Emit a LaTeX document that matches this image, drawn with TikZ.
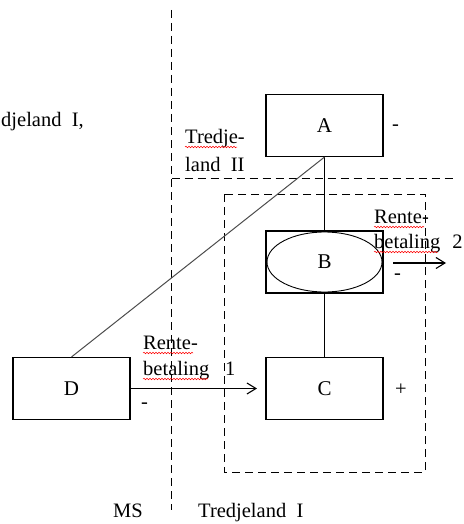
\documentclass[tikz,border=0pt]{standalone}
\usepackage{fontspec}
\setmainfont{Liberation Serif}
\usetikzlibrary{arrows.meta,shapes.geometric,decorations.pathmorphing}

\tikzset{
  box/.style={draw, line width=1.1pt, minimum width=117pt, minimum height=62pt, inner sep=0pt, font=\fontsize{21}{24}\selectfont},
  grense/.style={dash pattern=on 8pt off 5pt, line width=1pt},
  lbl/.style={font=\fontsize{20.5}{24}\selectfont, inner sep=0pt, anchor=base west},
  spell/.style={red, line width=0.5pt, decorate, decoration={snake, amplitude=0.8pt, segment length=3pt}},
  pil/.style={line width=1.1pt, -{Straight Barb[length=9pt,width=11pt,line width=1.1pt]}}
}

\begin{document}
\begin{tikzpicture}[x=1pt,y=-1pt]
\useasboundingbox (0,0) rectangle (463,524);
% grenser
\draw[grense] (171.5,10) -- (171.5,510);
\draw[grense] (171.5,178) -- (457,178);
\draw[grense] (224,194) rectangle (425,472);

\node[box] (A) at (324.5,125.5) {A};
\node[box] (B) at (324.5,262) {};
\node[draw, ellipse, line width=0.9pt, minimum width=115pt, minimum height=60pt, inner sep=0pt, font=\fontsize{21}{24}\selectfont] (Bell) at (324.5,262) {B};
\node[box] (C) at (324.5,388.5) {C};
\node[box] (D) at (71.5,388.5) {D};

\draw[line width=1.1pt] (A.south) -- (B.north);
\draw[line width=1.1pt] (B.south) -- (C.north);
\draw[gray!60!black, line width=1pt] (A.south) -- (D.north);

\coordinate (ende1) at (257,388.5);
\coordinate (start2) at (393,263);
\coordinate (ende2) at (446,263);
\draw[pil] (D.east) -- (ende1);
\draw[pil] (start2) -- (ende2);

% tekster
\node[lbl] (t1) at (1,126) {djeland\ \ I,};
\node[lbl] (t2) at (185,143) {Tredje-};
\node[lbl] (t3) at (185,171) {land\ \ II};
\node[lbl] (mA) at (392,131) {-};
\node[lbl] (r2a) at (374,223) {Rente-};
\node[lbl] (r2b) at (374,248) {betaling\hspace{12pt}2};
\node[lbl] (m2) at (394,279) {-};
\node[lbl] (r1a) at (143,349) {Rente-};
\node[lbl] (r1b) at (143,375) {betaling\hspace{16pt}1};
\node[lbl] (m1) at (141,408) {-};
\node[lbl] (pC) at (395,395) {+};
\node[lbl] (ms) at (113,517) {MS};
\node[lbl] (t4) at (198,517) {Tredjeland\ \ I};

% stavekontroll
\draw[spell] (185,147) -- (237,147);
\draw[spell] (374,227) -- (424,227);
\draw[spell] (374,252) -- (438,252);
\draw[spell] (143,353) -- (193,353);
\draw[spell] (143,379) -- (208,379);
\end{tikzpicture}
\end{document}
